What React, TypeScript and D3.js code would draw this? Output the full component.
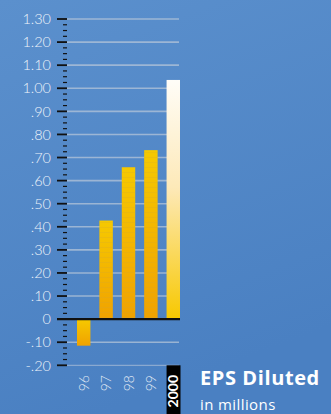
import React from "react";
import * as d3 from "d3";

const years = ["96", "97", "98", "99", "2000"];
const eps = [-0.115, 0.427, 0.658, 0.732, 1.036];
const tickValues = [1.3, 1.2, 1.1, 1.0, 0.9, 0.8, 0.7, 0.6, 0.5, 0.4, 0.3, 0.2, 0.1, 0, -0.1, -0.2];
const tickLabels = ["1.30", "1.20", "1.10", "1.00", ".90", ".80", ".70", ".60", ".50", ".40", ".30", ".20", ".10", "0", "-.10", "-.20"];

const W = 331;
const H = 414;
const font = "Lato, 'Open Sans', 'DejaVu Sans', sans-serif";
const titleFont = "'Open Sans', 'DejaVu Sans', sans-serif";

export default function App() {
  const y = d3.scaleLinear().domain([-0.2, 1.3]).range([365.3, 19]);
  const x = d3.scaleBand<string>().domain(years).range([77, 180]).paddingInner(0.4).paddingOuter(0);
  const minorTicks = d3.range(-0.2, 1.3001, 0.025).filter(v => Math.abs(Math.round(v * 10) - v * 10) > 0.01);
  const axisX = 67;

  return (
    <svg width={W} height={H} style={{ position: "absolute", left: 0, top: 0, display: "block" }}>
      <defs>
        <linearGradient id="bg" x1="0" y1="0" x2="0.3" y2="1">
          <stop offset="0" stopColor="#5b90cd" />
          <stop offset="1" stopColor="#4a80c2" />
        </linearGradient>
        <linearGradient id="barGold" x1="0" y1="0" x2="0" y2="1">
          <stop offset="0" stopColor="#f6c900" />
          <stop offset="1" stopColor="#f0a200" />
        </linearGradient>
        <linearGradient id="barWhite" x1="0" y1="0" x2="0" y2="1">
          <stop offset="0" stopColor="#fffdf8" />
          <stop offset="0.45" stopColor="#fde9b8" />
          <stop offset="1" stopColor="#f7c800" />
        </linearGradient>
        <pattern id="stripes" width="4" height="5" patternUnits="userSpaceOnUse">
          <rect y="2" width="4" height="0.8" fill="#c8a040" fillOpacity={0.25} />
        </pattern>
      </defs>
      <rect width={W} height={H} fill="url(#bg)" />

      {/* gridlines */}
      {tickValues.filter(v => v !== 0).map(v => (
        <line key={"g" + v} x1={axisX} x2={179} y1={y(v)} y2={y(v)}
          stroke="#b4c4d8" strokeOpacity={0.75} strokeWidth={v === -0.2 ? 1 : 1.6} />
      ))}

      {/* bars */}
      {years.map((yr, i) => {
        const v = eps[i];
        const top = Math.min(y(v), y(0));
        const h = Math.abs(y(v) - y(0));
        return (
          <g key={yr}>
            <rect x={x(yr)} y={top} width={x.bandwidth()} height={h}
              fill={yr === "2000" ? "url(#barWhite)" : "url(#barGold)"} />
            {yr !== "2000" && v > 0 && (
              <rect x={x(yr)} y={top} width={x.bandwidth()} height={h} fill="url(#stripes)" />
            )}
          </g>
        );
      })}

      {/* minor ticks */}
      {minorTicks.map(v => (
        <line key={"m" + v.toFixed(3)} x1={63} x2={axisX} y1={y(v)} y2={y(v)} stroke="#111" strokeWidth={1.2} />
      ))}
      {/* major ticks */}
      {tickValues.map(v => (
        <line key={"t" + v} x1={57} x2={axisX} y1={y(v)} y2={y(v)} stroke="#111" strokeWidth={1.8} />
      ))}
      {/* zero line */}
      <line x1={57} x2={180} y1={y(0)} y2={y(0)} stroke="#111" strokeWidth={2.2} />

      {/* tick labels */}
      {tickValues.map((v, i) => (
        <text key={"l" + v} x={51} y={y(v)} dy="0.36em" textAnchor="end" fill="#eef3fa"
          fontFamily={font} fontSize={14.5} fontWeight={300}>
          {tickLabels[i]}
        </text>
      ))}

      {/* year labels */}
      {years.map(yr => {
        const cx = (x(yr) ?? 0) + x.bandwidth() / 2;
        if (yr === "2000") {
          return (
            <g key={"y" + yr}>
              <rect x={x(yr)} y={y(-0.2)} width={x.bandwidth() + 0.5} height={H - y(-0.2)} fill="#000" />
              <text transform={`translate(${cx},375) rotate(-90)`} dy="0.36em" textAnchor="end"
                fill="#fff" fontFamily={font} fontSize={14} fontWeight="bold">{yr}</text>
            </g>
          );
        }
        return (
          <text key={"y" + yr} transform={`translate(${cx},375) rotate(-90)`} dy="0.36em" textAnchor="end"
            fill="#e4ecf6" fontFamily={font} fontSize={14} fontWeight={300}>{yr}</text>
        );
      })}

      {/* title */}
      <text x={200} y={385} fill="#fff" fontFamily={titleFont} fontSize={20} fontWeight="bold" letterSpacing={0.6}>EPS Diluted</text>
      <text x={200} y={410} fill="#fff" fontFamily={titleFont} fontSize={15} letterSpacing={0.4}>in millions</text>
    </svg>
  );
}
